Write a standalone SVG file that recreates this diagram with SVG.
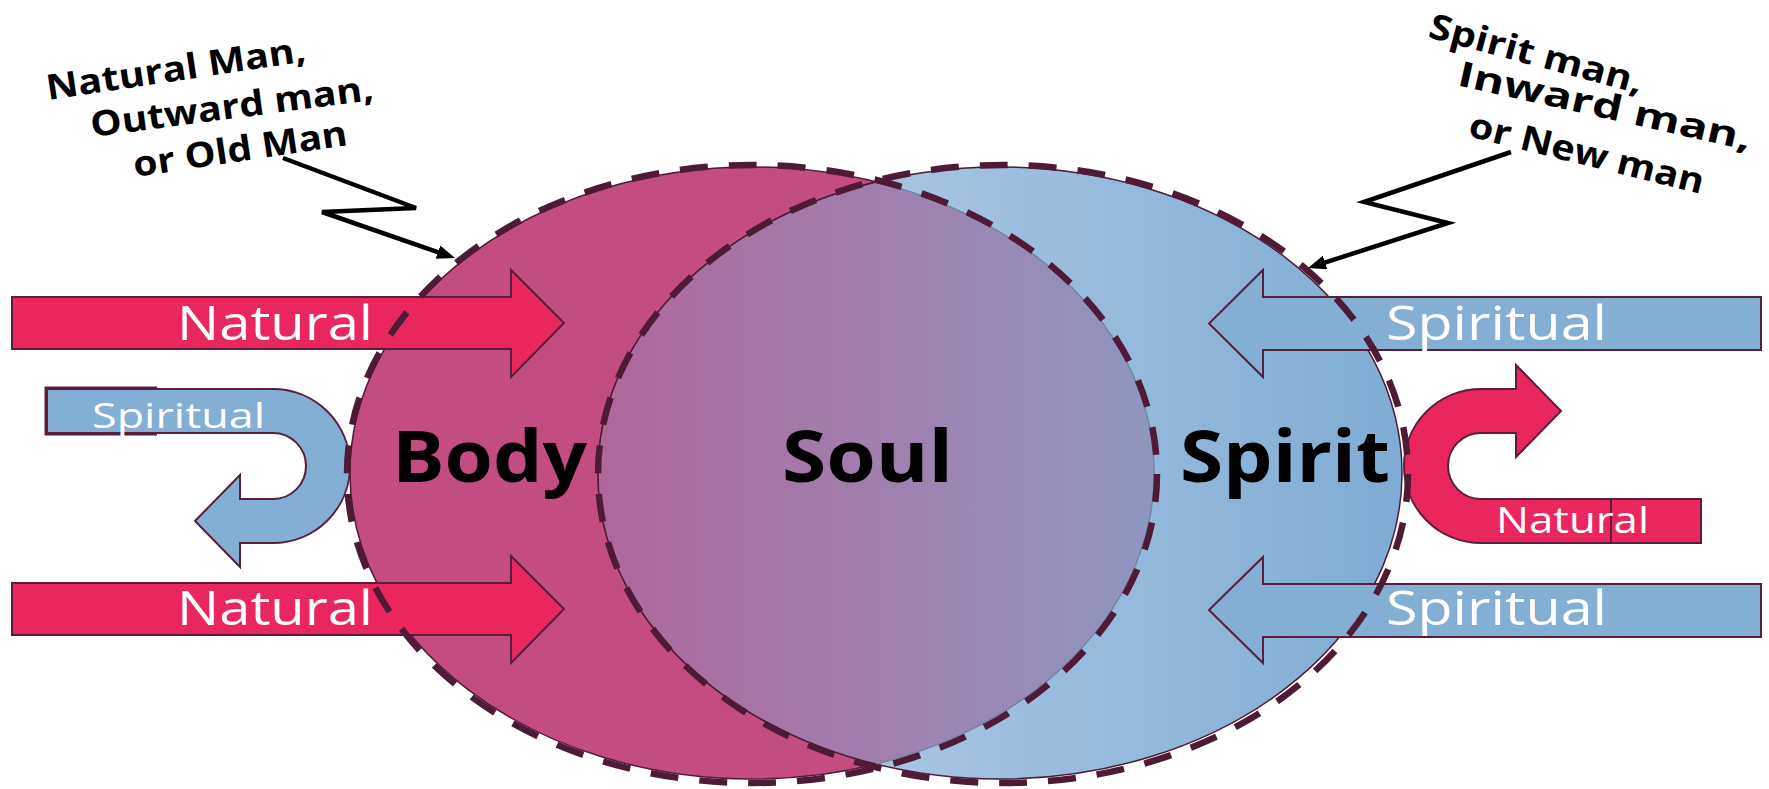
<svg xmlns="http://www.w3.org/2000/svg" width="1769" height="789" viewBox="0 0 1769 789">
<defs>
<linearGradient id="gBlue" gradientUnits="userSpaceOnUse" x1="598" y1="0" x2="1402" y2="0">
<stop offset="0" stop-color="#BDD3E9"/><stop offset="1" stop-color="#7FACD4"/>
</linearGradient>
<linearGradient id="gSoul" gradientUnits="userSpaceOnUse" x1="598" y1="0" x2="1154" y2="0">
<stop offset="0" stop-color="#B0679A"/><stop offset="1" stop-color="#8F97BF"/>
</linearGradient>
<marker id="ah" markerUnits="userSpaceOnUse" markerWidth="20" markerHeight="16" refX="2" refY="7" orient="auto">
<path d="M0,0 L18,7 L0,14 Z" fill="#000"/>
</marker>
<style>
.thin{stroke:#4F1A35;stroke-width:1.5}
.dash{fill:none;stroke:#4F1A35;stroke-width:6.5;stroke-dasharray:28 21}
.red{fill:#E9275E;stroke:#5A1E3C;stroke-width:2}
.blue{fill:#83AFD4;stroke:#5A1E3C;stroke-width:2}
.lbl{font-family:'Open Sans','DejaVu Sans',sans-serif;fill:#fff;font-size:48px}
.big{font-family:'Open Sans','DejaVu Sans',sans-serif;font-weight:bold;font-size:72px;fill:#000;text-anchor:start}
.ann{font-family:'Open Sans','DejaVu Sans',sans-serif;font-weight:bold;font-size:35px;fill:#000}
.zig{fill:none;stroke:#000;stroke-width:4.5;stroke-linejoin:miter;marker-end:url(#ah)}
</style>
</defs>
<rect width="1769" height="789" fill="#fff"/>

<g id="body-ellipse"><ellipse cx="752" cy="473" rx="402" ry="306" fill="#C34C80" class="thin"/></g>
<g id="spirit-ellipse"><ellipse cx="1000" cy="473" rx="402" ry="306" fill="url(#gBlue)" class="thin"/></g>
<g id="soul-region">
<path d="M876 181.9 A402 306 0 0 0 876 764.1 A402 306 0 0 0 876 181.9 Z" fill="url(#gSoul)"/>
<path d="M876 181.9 A402 306 0 0 0 876 764.1" fill="none" class="thin"/>
<path d="M876 764.1 A402 306 0 0 0 876 181.9" fill="none" stroke="#7485A6" stroke-width="1.5"/>
</g>

<g id="arrow-natural-top"><path class="red" d="M12 297 L511 297 L511 270 L564 323 L511 377 L511 349 L12 349 Z"/>
<text class="lbl" x="177" y="340" textLength="196" lengthAdjust="spacingAndGlyphs">Natural</text></g>
<g id="arrow-natural-bottom"><path class="red" d="M12 583 L511 583 L511 556 L564 609 L511 663 L511 635 L12 635 Z"/>
<text class="lbl" x="177" y="625" textLength="196" lengthAdjust="spacingAndGlyphs">Natural</text></g>
<g id="arrow-spiritual-top"><path class="blue" d="M1761 297 L1263 297 L1263 270 L1209 323.5 L1263 377 L1263 350 L1761 350 Z"/>
<text class="lbl" x="1386" y="340" textLength="221" lengthAdjust="spacingAndGlyphs">Spiritual</text></g>
<g id="arrow-spiritual-bottom"><path class="blue" d="M1761 584 L1263 584 L1263 557 L1209 610 L1263 663 L1263 637 L1761 637 Z"/>
<text class="lbl" x="1386" y="625" textLength="221" lengthAdjust="spacingAndGlyphs">Spiritual</text></g>
<g id="uturn-spiritual">
<path class="blue" d="M47 389 L273 389 A77 77 0 0 1 273 543 L240 543 L240 567 L195 521 L240 475 L240 499 L273 499 A33 33 0 0 0 273 433 L47 433 Z"/>
<path d="M157 388 L46 388 L46 434 L157 434" fill="none" stroke="#5A1E3C" stroke-width="3"/>
<text class="lbl" x="92" y="428" style="font-size:35px" textLength="173" lengthAdjust="spacingAndGlyphs">Spiritual</text>
</g>
<g id="uturn-natural">
<path class="red" d="M1701 499 L1481 499 A33 33 0 0 1 1481 433 L1516 433 L1516 457 L1561 411 L1516 365 L1516 389 L1481 389 A77 77 0 0 0 1481 543 L1701 543 Z"/>
<rect class="red" x="1611" y="499" width="90" height="44"/>
<text class="lbl" x="1496" y="533" style="font-size:36px" textLength="153" lengthAdjust="spacingAndGlyphs">Natural</text>
</g>

<g id="outlines">
<ellipse class="dash" cx="752" cy="474" rx="405" ry="309"/>
<ellipse class="dash" cx="1003" cy="474" rx="405" ry="309"/>
</g>

<g id="labels">
<text class="big" x="392" y="482" textLength="195" lengthAdjust="spacingAndGlyphs">Body</text>
<text class="big" x="782" y="482" textLength="171" lengthAdjust="spacingAndGlyphs">Soul</text>
<text class="big" x="1180" y="482" textLength="210" lengthAdjust="spacingAndGlyphs">Spirit</text>
</g>

<g id="annotation-left">
<text class="ann" x="48" y="100" transform="rotate(-8.5 48 100)" textLength="262" lengthAdjust="spacingAndGlyphs">Natural Man,</text>
<text class="ann" x="92" y="137" transform="rotate(-7.5 92 137)" textLength="285" lengthAdjust="spacingAndGlyphs">Outward man,</text>
<text class="ann" x="135" y="177" transform="rotate(-8.5 135 177)" textLength="216" lengthAdjust="spacingAndGlyphs">or Old Man</text>
</g>
<g id="annotation-right">
<text class="ann" x="1427" y="37" transform="rotate(15 1427 37)" textLength="220" lengthAdjust="spacingAndGlyphs">Spirit man,</text>
<text class="ann" x="1456" y="85" transform="rotate(12.6 1456 85)" textLength="300" lengthAdjust="spacingAndGlyphs">Inward man,</text>
<text class="ann" x="1467" y="136" transform="rotate(13.9 1467 136)" textLength="241" lengthAdjust="spacingAndGlyphs">or New man</text>
</g>

<g id="connectors">
<polyline class="zig" points="283,158 416,208 322,212 439.9,252.8"/>
<polyline class="zig" points="1511,152 1364,202 1448,223 1323.2,263.1"/>
</g>
</svg>
